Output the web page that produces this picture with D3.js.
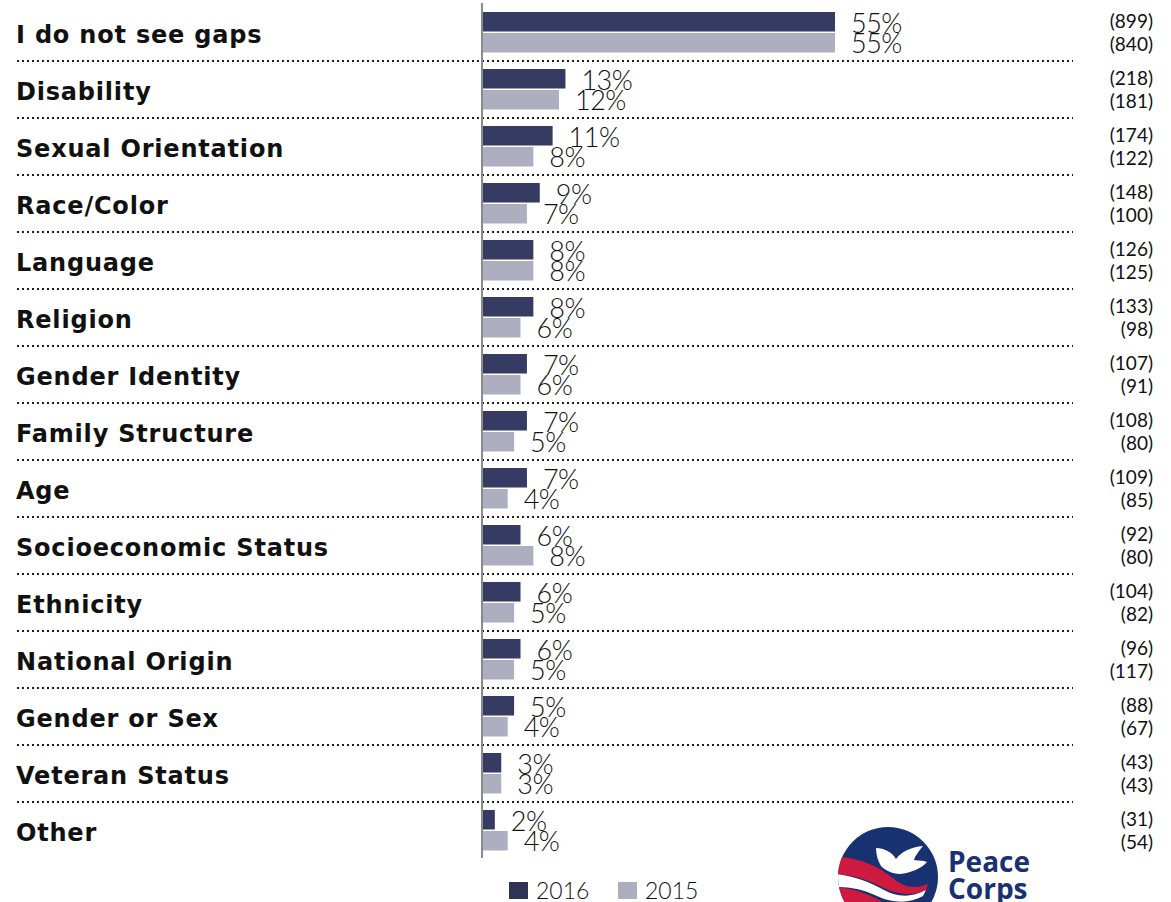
<!DOCTYPE html>
<html>
<head>
<meta charset="utf-8">
<script src="https://cdn.jsdelivr.net/npm/d3@7"></script>
<style>
  html, body { margin: 0; padding: 0; background: #ffffff; }
  svg { display: block; }
</style>
</head>
<body>
<svg id="chart" width="1171" height="902"></svg>
<script>
// Gaps observed, by category, for the two survey years
const categories = [
  "I do not see gaps", "Disability", "Sexual Orientation", "Race/Color",
  "Language", "Religion", "Gender Identity", "Family Structure", "Age",
  "Socioeconomic Status", "Ethnicity", "National Origin", "Gender or Sex",
  "Veteran Status", "Other"
];
const years = ["2016", "2015"];
const pct2016 = [55, 13, 11, 9, 8, 8, 7, 7, 7, 6, 6, 6, 5, 3, 2];
const pct2015 = [55, 12, 8, 7, 8, 6, 6, 5, 4, 8, 5, 5, 4, 3, 4];
const count2016 = [899, 218, 174, 148, 126, 133, 107, 108, 109, 92, 104, 96, 88, 43, 31];
const count2015 = [840, 181, 122, 100, 125, 98, 91, 80, 85, 80, 82, 117, 67, 43, 54];

const colors = { "2016": "#353b62", "2015": "#adafc0" };
const labelFont = "'DejaVu Sans', sans-serif";
const thinFont = "Lato, 'DejaVu Sans', sans-serif";

const svg = d3.select("#chart");

const rows = categories.map((c, i) => ({
  category: c,
  values: [
    { year: "2016", pct: pct2016[i], n: count2016[i] },
    { year: "2015", pct: pct2015[i], n: count2015[i] }
  ]
}));

const x = d3.scaleLinear().domain([0, 55]).range([482, 835]);
const y = d3.scaleBand().domain(categories).range([4, 4 + 57 * categories.length]);
const sub = d3.scaleOrdinal().domain(years).range([8, 29]);     // bar offset in row
const labelY = d3.scaleOrdinal().domain(years).range([29, 49]);
const countY = d3.scaleOrdinal().domain(years).range([24, 47]);
const barH = 19.5;

// dotted separators between rows
svg.append("g")
  .selectAll("line")
  .data(categories.slice(0, -1))
  .join("line")
  .attr("x1", 17).attr("x2", 1073)
  .attr("y1", d => y(d) + y.bandwidth())
  .attr("y2", d => y(d) + y.bandwidth())
  .attr("stroke", "#1e1e1e")
  .attr("stroke-width", 2)
  .attr("stroke-dasharray", "2,3");

// category labels
svg.append("g")
  .selectAll("text")
  .data(rows)
  .join("text")
  .attr("x", 16)
  .attr("y", d => y(d.category) + 39)
  .attr("font-family", labelFont)
  .attr("font-weight", "bold")
  .attr("font-size", 24)
  .attr("letter-spacing", 0.8)
  .attr("fill", "#111")
  .text(d => d.category);

const groups = svg.append("g")
  .selectAll("g")
  .data(rows)
  .join("g")
  .attr("transform", d => `translate(0,${y(d.category)})`);

// bars
groups.selectAll("rect")
  .data(d => d.values)
  .join("rect")
  .attr("x", x(0))
  .attr("y", d => sub(d.year))
  .attr("width", d => x(d.pct) - x(0))
  .attr("height", barH)
  .attr("fill", d => colors[d.year]);

// percentage labels
groups.selectAll("text.pct")
  .data(d => d.values)
  .join("text")
  .attr("class", "pct")
  .attr("x", d => x(d.pct) + 16)
  .attr("y", d => labelY(d.year))
  .attr("font-family", thinFont)
  .attr("font-weight", 300)
  .attr("font-size", 27)
  .attr("letter-spacing", -0.5)
  .attr("fill", "#111")
  .text(d => d.pct + "%");

// respondent counts
groups.selectAll("text.n")
  .data(d => d.values)
  .join("text")
  .attr("class", "n")
  .attr("x", 1153)
  .attr("y", d => countY(d.year))
  .attr("text-anchor", "end")
  .attr("font-family", thinFont)
  .attr("font-weight", 400)
  .attr("font-size", 19)
  .attr("fill", "#111")
  .text(d => `(${d.n})`);

// axis baseline
svg.append("line")
  .attr("x1", x(0)).attr("x2", x(0))
  .attr("y1", 3).attr("y2", 858)
  .attr("stroke", "#8a8a8a")
  .attr("stroke-width", 2);

// legend
const legend = svg.append("g")
  .selectAll("g")
  .data(years)
  .join("g")
  .attr("transform", (d, i) => `translate(${509 + i * 109},882)`);
legend.append("rect")
  .attr("width", 19).attr("height", 17)
  .attr("fill", d => d === "2016" ? "#2f3457" : colors[d]);
legend.append("text")
  .attr("x", 27).attr("y", 16.5)
  .attr("font-family", thinFont)
  .attr("font-weight", 300)
  .attr("font-size", 23)
  .attr("fill", "#111")
  .text(d => d);

// Peace Corps logo
const logo = svg.append("g");
const navy = "#183271", red = "#d0193f";
logo.append("clipPath").attr("id", "logoClip")
  .append("circle").attr("cx", 888).attr("cy", 877).attr("r", 50);
logo.append("circle").attr("cx", 888).attr("cy", 877).attr("r", 50).attr("fill", navy);
const inner = logo.append("g").attr("clip-path", "url(#logoClip)");
inner.append("path").attr("fill", red)
  .attr("d", "M836,857 C858,857 878,866 894,879 C905,888 916,889 928,884 L926,890 C911,897 895,894 880,886 C865,878 850,875 836,874 Z");
inner.append("path").attr("fill", "#fff")
  .attr("d", "M836,874 C853,876 868,881 884,890 C897,897 911,898 926,890 L923,896 C909,904 892,903 877,896 C862,889 850,887 836,887 Z");
inner.append("path").attr("fill", red)
  .attr("d", "M836,887 C852,888 866,893 877,899 C882,902 888,905 890,910 L836,910 Z");
inner.append("path").attr("fill", "#fff")
  .attr("d", "M876,848 C884,848 892,852 896,859 C901,852 911,847 923,846 C919,851 915,856 914,860 C919,861 923,860 927,862 C921,869 910,873 900,874 C892,874 885,870 881,866 C878,861 876,855 876,848 Z");
logo.selectAll("text.logo")
  .data(["Peace", "Corps"])
  .join("text")
  .attr("class", "logo")
  .attr("x", 948)
  .attr("y", (d, i) => 872 + i * 27)
  .attr("font-family", "'Open Sans', Roboto, sans-serif")
  .attr("font-weight", 700)
  .attr("font-size", 28)
  .attr("fill", navy)
  .text(d => d);
</script>
</body>
</html>
